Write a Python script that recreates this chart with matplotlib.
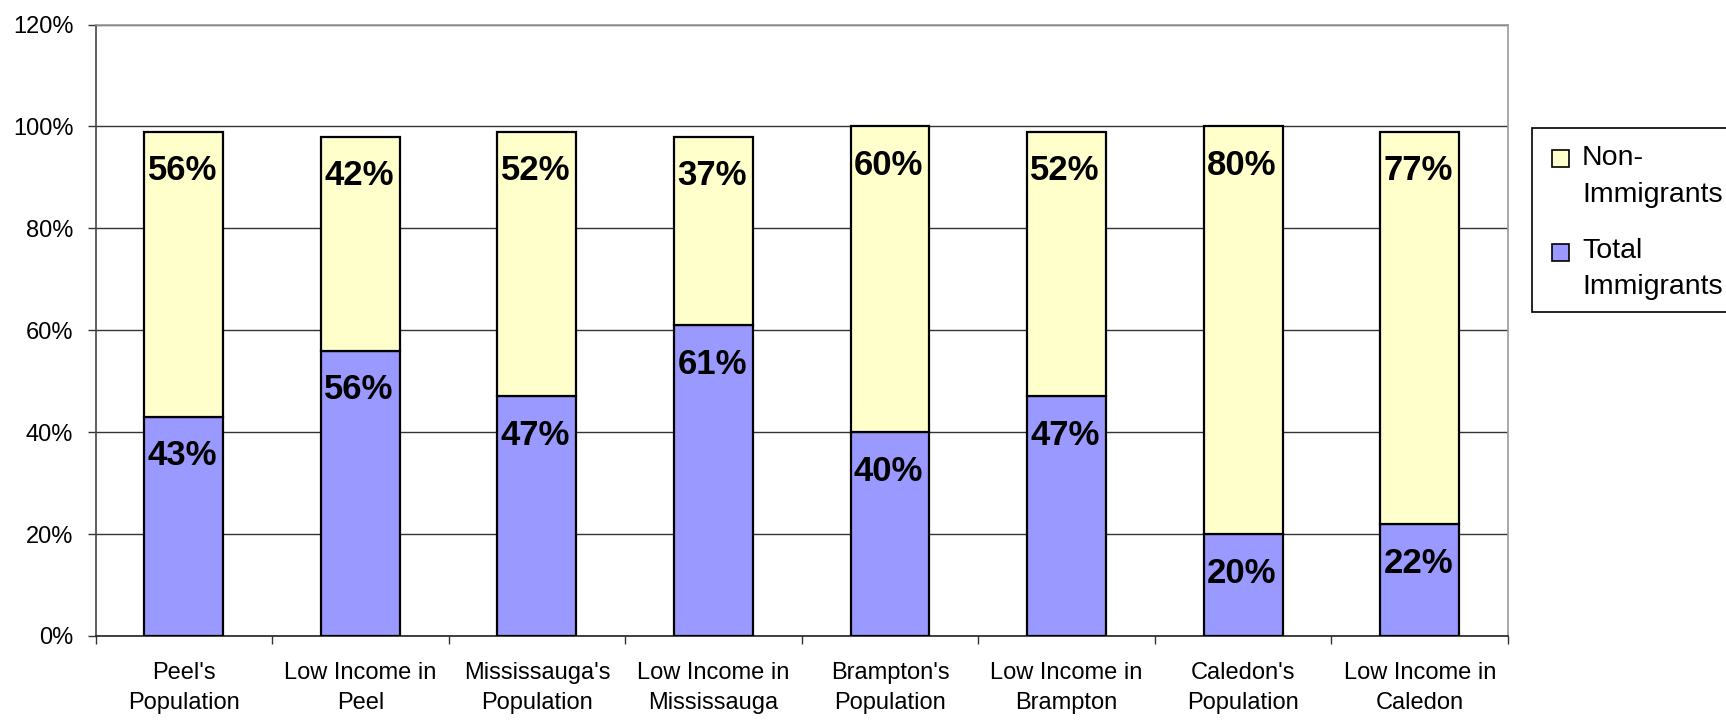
import numpy as np
import matplotlib
matplotlib.use("Agg")
import matplotlib.pyplot as plt
from matplotlib.patches import Rectangle

categories = ["Peel's\nPopulation", "Low Income in\nPeel", "Mississauga's\nPopulation",
              "Low Income in\nMississauga", "Brampton's\nPopulation", "Low Income in\nBrampton",
              "Caledon's\nPopulation", "Low Income in\nCaledon"]
total_immigrants = [43, 56, 47, 61, 40, 47, 20, 22]
non_immigrants = [56, 42, 52, 37, 60, 52, 80, 77]
series_names = ["Non-\nImmigrants", "Total\nImmigrants"]
yticks = [0, 20, 40, 60, 80, 100, 120]

plt.rcParams['font.family'] = ['Liberation Sans', 'DejaVu Sans']

W, H = 1726, 720
fig = plt.figure(figsize=(W / 100, H / 100), dpi=100)
AX_L, AX_R, AX_T, AX_B = 95.5, 1508, 24.5, 636
ax = fig.add_axes([AX_L / W, 1 - AX_B / H, (AX_R - AX_L) / W, (AX_B - AX_T) / H])

blue = '#9999FF'
yellow = '#FFFFCC'
x = np.arange(len(categories))
bw = 0.447
ax.bar(x, total_immigrants, bw, color=blue, edgecolor='black', linewidth=1.6, zorder=3)
ax.bar(x, non_immigrants, bw, bottom=total_immigrants, color=yellow, edgecolor='black',
       linewidth=1.6, zorder=3)

for xi, b, n in zip(x, total_immigrants, non_immigrants):
    ax.annotate(f'{b}%', xy=(xi, b), xytext=(-1, -35), textcoords='offset points',
                ha='center', va='baseline', fontsize=25, fontweight='bold', zorder=4)
    ax.annotate(f'{n}%', xy=(xi, b + n), xytext=(-1, -35), textcoords='offset points',
                ha='center', va='baseline', fontsize=25, fontweight='bold', zorder=4)

ax.set_xlim(-0.5, len(categories) - 0.5)
ax.set_ylim(0, 120)
ax.set_yticks(yticks)
ax.set_yticklabels([f'{v}%' for v in yticks], fontsize=17)
ax.tick_params(axis='y', direction='out', length=6, width=1, pad=10, color='#333')
ax.yaxis.grid(True, color='#333333', linewidth=1)
ax.set_axisbelow(True)

ax.set_xticks(np.arange(len(categories) + 1) - 0.5)
ax.set_xticklabels([])
ax.tick_params(axis='x', which='major', direction='out', length=6, width=1, color='#333')
ax.set_xticks(x, minor=True)
ax.set_xticklabels(categories, minor=True, fontsize=17, linespacing=1.45)
ax.tick_params(axis='x', which='minor', length=0, pad=19)

ax.spines['left'].set_color('#444444')
ax.spines['bottom'].set_color('#222222')
ax.spines['top'].set_color('#999999')
ax.spines['right'].set_color('#999999')
for s in ax.spines.values():
    s.set_linewidth(1.2)

# Legend (manual, Excel-style)
def fx(px):
    return px / W

def fy(py):
    return 1 - py / H

fig.patches.append(Rectangle((fx(1532), fy(312)), fx(1726 + 20) - fx(1532), fy(128) - fy(312),
                             transform=fig.transFigure, facecolor='white', edgecolor='black',
                             linewidth=1.2, clip_on=False))
legend_items = [(series_names[0], yellow, 150, [165, 202]),
                (series_names[1], blue, 244, [258, 294])]
for name, col, sq_top, baselines in legend_items:
    fig.patches.append(Rectangle((fx(1552), fy(sq_top + 17)), fx(17), 17 / H,
                                 transform=fig.transFigure, facecolor=col, edgecolor='black',
                                 linewidth=1.2))
    for line, bl in zip(name.split('\n'), baselines):
        fig.text(fx(1582), fy(bl), line, fontsize=20.5, ha='left', va='baseline')

fig.savefig('out.png', dpi=100)
